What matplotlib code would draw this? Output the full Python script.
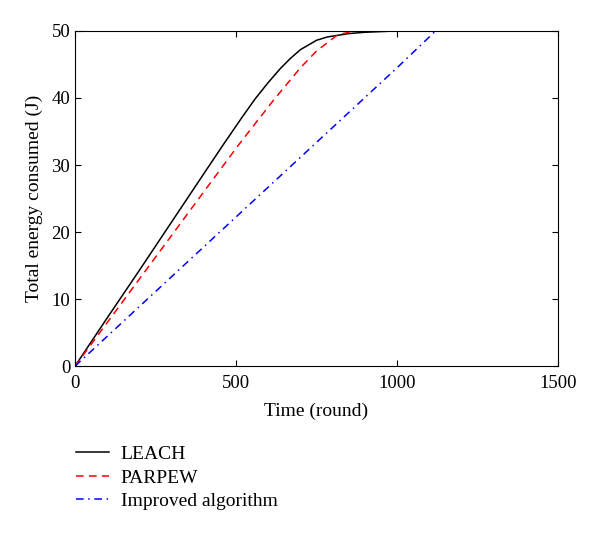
import numpy as np
import matplotlib.pyplot as plt

plt.rcParams['font.family'] = ['Liberation Serif', 'DejaVu Serif']

# energy curves
leach_x = [0, 100, 200, 300, 400, 460, 520, 560, 600, 638, 669, 700, 750, 784, 850, 900, 1000, 1265]
leach_y = [0, 7.2, 14.3, 21.5, 28.7, 33, 37.2, 39.9, 42.3, 44.4, 45.9, 47.2, 48.6, 49.1, 49.6, 49.8, 50, 50]

parpew_x = [0, 100, 200, 300, 400, 508, 617, 700, 750, 815, 860, 900, 1000]
parpew_y = [0, 6.5, 13, 19.5, 26, 33, 39.7, 44.5, 47, 49.4, 49.9, 50, 50]

improved_x = [0, 200, 400, 600, 800, 1000, 1120, 1230]
improved_y = [0, 8.9, 17.8, 26.7, 35.6, 44.5, 50, 50]

fig = plt.figure(figsize=(6, 5.33), dpi=100)
ax = fig.add_axes([0.125, 0.313, 0.805, 0.629])

ax.plot(leach_x, leach_y, color='black', linestyle='-', linewidth=1.1, label='LEACH')
ax.plot(parpew_x, parpew_y, color='red', linestyle=(0, (5, 3.5)), linewidth=1.1, label='PARPEW')
ax.plot(improved_x, improved_y, color='blue', linestyle=(0, (5, 3, 1, 3)), linewidth=1.1,
        label='Improved algorithm')

ax.set_xlim(0, 1500)
ax.set_ylim(0, 50)
ax.set_xticks([0, 500, 1000, 1500])
ax.set_yticks([0, 10, 20, 30, 40, 50])
ax.tick_params(direction='in', top=True, right=True, labelsize=13.5, length=4)
ax.tick_params(axis='x', pad=6)
ax.set_xlabel('Time (round)', fontsize=14, labelpad=8)
ax.set_ylabel('Total energy consumed (J)', fontsize=14, labelpad=6)

fig.legend(loc='upper left', bbox_to_anchor=(0.097, 0.197), frameon=False,
           fontsize=14, handlelength=1.7, handletextpad=0.62, labelspacing=0.3)

plt.savefig('out.png', dpi=100)
